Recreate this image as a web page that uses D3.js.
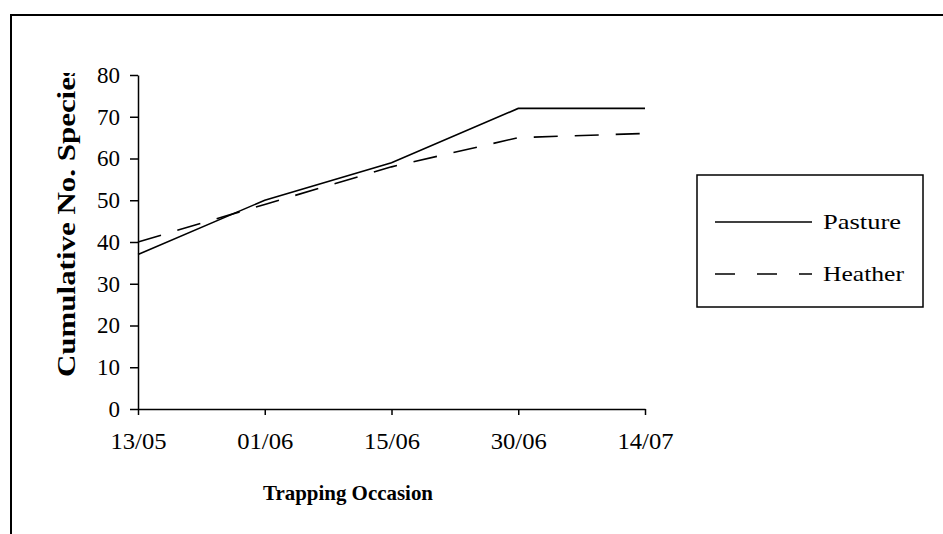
<!doctype html>
<html>
<head>
<meta charset="UTF-8">
<title>Cumulative species</title>
<script src="https://cdn.jsdelivr.net/npm/d3@7"></script>
<style>
  body { margin: 0; background: #fff; }
  svg text { font-family: "Liberation Serif", "Times New Roman", serif; fill: #000; }
  .axis path, .axis line { stroke: #000; stroke-width: 1.5px; }
</style>
</head>
<body>
<svg id="chart" width="943" height="534"></svg>
<script>
// trapping occasions and cumulative species counts
var occasions = ["13/05", "01/06", "15/06", "30/06", "14/07"];
var pasture = [37, 50, 59, 72, 72];
var heather = [40, 49, 58, 65, 66];
var yTicks = [0, 10, 20, 30, 40, 50, 60, 70, 80];

var svg = d3.select("#chart");

// outer frame (only top and left show in the scan)
svg.append("path")
  .attr("d", "M11,534 L11,15 L943,15")
  .attr("fill", "none")
  .attr("stroke", "#000")
  .attr("stroke-width", 2);

var x = d3.scalePoint().domain(occasions).range([138, 645]),
    y = d3.scaleLinear().domain([0, 80]).range([409, 75]);

svg.append("g")
  .attr("class", "axis")
  .attr("transform", "translate(0,409)")
  .call(d3.axisBottom(x).tickSize(6).tickSizeOuter(0).tickPadding(18))
  .selectAll("text")
    .style("font-size", "23px")
    .attr("textLength", 56)
    .attr("lengthAdjust", "spacingAndGlyphs");

svg.append("g")
  .attr("class", "axis")
  .attr("transform", "translate(138,0)")
  .call(d3.axisLeft(y).tickValues(yTicks).tickSize(8).tickSizeOuter(0).tickPadding(10))
  .selectAll("text")
    .style("font-size", "23px");

var line = d3.line()
  .x(function(d, i) { return x(occasions[i]); })
  .y(function(d) { return y(d); });

svg.append("path")
  .datum(pasture)
  .attr("d", line)
  .attr("fill", "none")
  .attr("stroke", "#000")
  .attr("stroke-width", 1.6);

svg.append("path")
  .datum(heather)
  .attr("d", line)
  .attr("fill", "none")
  .attr("stroke", "#000")
  .attr("stroke-width", 1.6)
  .attr("stroke-dasharray", "24,17");

// axis titles (the y title is cut off at the top, as in the scan)
svg.append("clipPath").attr("id", "ytitle-clip")
  .append("rect").attr("x", 0).attr("y", 73).attr("width", 130).attr("height", 461);

svg.append("g")
  .attr("clip-path", "url(#ytitle-clip)")
  .append("text")
  .attr("transform", "translate(75,377) rotate(-90)")
  .attr("text-anchor", "start")
  .attr("textLength", 312)
  .attr("lengthAdjust", "spacingAndGlyphs")
  .style("font-size", "26px")
  .style("font-weight", "bold")
  .text("Cumulative No. Species");

svg.append("text")
  .attr("x", 348)
  .attr("y", 500)
  .attr("text-anchor", "middle")
  .attr("textLength", 170)
  .attr("lengthAdjust", "spacingAndGlyphs")
  .style("font-size", "21px")
  .style("font-weight", "bold")
  .text("Trapping Occasion");

// legend
var legend = svg.append("g");
legend.append("rect")
  .attr("x", 697).attr("y", 175)
  .attr("width", 226).attr("height", 132)
  .attr("fill", "none")
  .attr("stroke", "#000")
  .attr("stroke-width", 1.5);

var items = [
  { name: "Pasture", dash: null, y: 222, len: 78 },
  { name: "Heather", dash: "20,22", y: 274, len: 81 }
];

var item = legend.selectAll(".item")
  .data(items)
  .enter().append("g")
  .attr("class", "item");

item.append("line")
  .attr("x1", 715).attr("x2", 812)
  .attr("y1", function(d) { return d.y; })
  .attr("y2", function(d) { return d.y; })
  .attr("stroke", "#000")
  .attr("stroke-width", 1.6)
  .attr("stroke-dasharray", function(d) { return d.dash; });

item.append("text")
  .attr("x", 823)
  .attr("y", function(d) { return d.y + 7; })
  .attr("textLength", function(d) { return d.len; })
  .attr("lengthAdjust", "spacingAndGlyphs")
  .style("font-size", "22px")
  .text(function(d) { return d.name; });
</script>
</body>
</html>
